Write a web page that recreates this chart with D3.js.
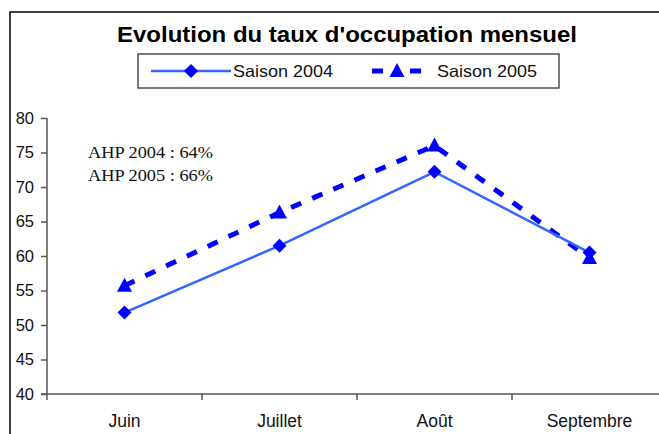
<!DOCTYPE html>
<html lang="fr">
<head>
    <meta charset="UTF-8">
    <title>Evolution du taux d'occupation mensuel</title>
    <script src="https://d3js.org/d3.v7.min.js"></script>
    <style>
        body { margin: 0; background: #fff; }
        svg { display: block; font-family: "Liberation Sans", Arial, sans-serif; }
        .frame { fill: none; stroke: #000; stroke-width: 1.5px; }
        .axis-line { stroke: #555; stroke-width: 1.5px; fill: none; }
        .tick-label { font-size: 16.5px; fill: #111; }
        .cat-label { font-size: 17.5px; fill: #111; }
        .title { font-size: 22px; font-weight: bold; fill: #000; }
        .legend-box { fill: #fff; stroke: #222; stroke-width: 1.2px; }
        .legend-text { font-size: 16.5px; fill: #111; }
        .note { font-family: "Liberation Serif", "Times New Roman", serif; font-size: 17px; fill: #111; }
        .line-2004 { fill: none; stroke: #3366ff; stroke-width: 2.5px; }
        .line-2005 { fill: none; stroke: #0000ff; stroke-width: 5px; stroke-dasharray: 11 12; }
        .marker { fill: #0000ff; }
    </style>
</head>
<body>
<svg width="659" height="434"></svg>
<script>

    // data
    var months = ['Juin', 'Juillet', 'Août', 'Septembre'];
    var saison2004 = [51.8, 61.5, 72.2, 60.5];
    var saison2005 = [55.7, 66.3, 76.0, 59.7];
    var yTicks = [40, 45, 50, 55, 60, 65, 70, 75, 80];
    var notes = ['AHP 2004 : 64%', 'AHP 2005 : 66%'];

    var svg = d3.select('svg');

    svg.append('rect')
        .attr('class', 'frame')
        .attr('x', 10)
        .attr('y', 12)
        .attr('width', 720)
        .attr('height', 500);

    var x = d3.scaleBand()
        .domain(months)
        .range([47, 667])
        .paddingInner(0)
        .paddingOuter(0);

    var y = d3.scaleLinear()
        .domain([40, 80])
        .range([394, 118]);

    // title
    svg.append('text')
        .attr('class', 'title')
        .attr('x', 347)
        .attr('y', 42)
        .attr('text-anchor', 'middle')
        .attr('textLength', 460)
        .attr('lengthAdjust', 'spacingAndGlyphs')
        .text("Evolution du taux d'occupation mensuel");

    // y axis
    var yAxis = d3.axisLeft(y).tickValues(yTicks).tickSize(6).tickPadding(7);
    var yAxisG = svg.append('g')
        .attr('transform', 'translate(47,0)')
        .call(yAxis);
    yAxisG.select('.domain').attr('class', 'axis-line').attr('d', 'M0,' + y(80) + 'V' + y(40));
    yAxisG.selectAll('.tick line').attr('stroke', '#555').attr('stroke-width', 1.5);
    yAxisG.selectAll('.tick text')
        .attr('class', 'tick-label')
        .attr('font-size', null)
        .attr('font-family', null)
        .attr('fill', null);

    // x axis
    var xAxisG = svg.append('g');
    xAxisG.append('line')
        .attr('class', 'axis-line')
        .attr('x1', 41).attr('x2', 680)
        .attr('y1', y(40)).attr('y2', y(40));
    xAxisG.selectAll('line.xtick')
        .data(months)
        .enter()
        .append('line')
        .attr('class', 'axis-line xtick')
        .attr('x1', function (d) { return x(d); })
        .attr('x2', function (d) { return x(d); })
        .attr('y1', y(40))
        .attr('y2', y(40) + 6);
    xAxisG.selectAll('text')
        .data(months)
        .enter()
        .append('text')
        .attr('class', 'cat-label')
        .attr('text-anchor', 'middle')
        .attr('x', function (d) { return x(d) + x.bandwidth() / 2; })
        .attr('y', 427)
        .text(function (d) { return d; });

    // lines
    var line = d3.line()
        .x(function (d, i) { return x(months[i]) + x.bandwidth() / 2; })
        .y(function (d) { return y(d); });

    svg.append('path').attr('class', 'line-2005').attr('d', line(saison2005));
    svg.append('path').attr('class', 'line-2004').attr('d', line(saison2004));

    var diamond = 'M0,-7L7,0L0,7L-7,0Z';
    var triangle = 'M0,-8L7.5,6L-7.5,6Z';

    svg.selectAll('path.m2005')
        .data(saison2005)
        .enter()
        .append('path')
        .attr('class', 'marker m2005')
        .attr('d', triangle)
        .attr('transform', function (d, i) {
            return 'translate(' + (x(months[i]) + x.bandwidth() / 2) + ',' + y(d) + ')';
        });

    svg.selectAll('path.m2004')
        .data(saison2004)
        .enter()
        .append('path')
        .attr('class', 'marker m2004')
        .attr('d', diamond)
        .attr('transform', function (d, i) {
            return 'translate(' + (x(months[i]) + x.bandwidth() / 2) + ',' + y(d) + ')';
        });

    // notes
    svg.selectAll('text.note')
        .data(notes)
        .enter()
        .append('text')
        .attr('class', 'note')
        .attr('x', 88)
        .attr('y', function (d, i) { return 158 + i * 23; })
        .attr('textLength', 125)
        .attr('lengthAdjust', 'spacingAndGlyphs')
        .text(function (d) { return d; });

    // legend
    var legend = svg.append('g');
    legend.append('rect')
        .attr('class', 'legend-box')
        .attr('x', 138).attr('y', 54)
        .attr('width', 421).attr('height', 34);

    legend.append('line')
        .attr('class', 'line-2004')
        .attr('x1', 151).attr('x2', 231)
        .attr('y1', 71).attr('y2', 71);
    legend.append('path')
        .attr('class', 'marker')
        .attr('d', diamond)
        .attr('transform', 'translate(191,71)');
    legend.append('text')
        .attr('class', 'legend-text')
        .attr('x', 233).attr('y', 77)
        .attr('textLength', 100)
        .attr('lengthAdjust', 'spacingAndGlyphs')
        .text('Saison 2004');

    legend.append('line')
        .attr('class', 'line-2005')
        .style('stroke-dasharray', '11 27')
        .attr('x1', 372).attr('x2', 422)
        .attr('y1', 71).attr('y2', 71);
    legend.append('path')
        .attr('class', 'marker')
        .attr('d', triangle)
        .attr('transform', 'translate(397,71)');
    legend.append('text')
        .attr('class', 'legend-text')
        .attr('x', 437).attr('y', 77)
        .attr('textLength', 100)
        .attr('lengthAdjust', 'spacingAndGlyphs')
        .text('Saison 2005');

</script>
</body>
</html>
